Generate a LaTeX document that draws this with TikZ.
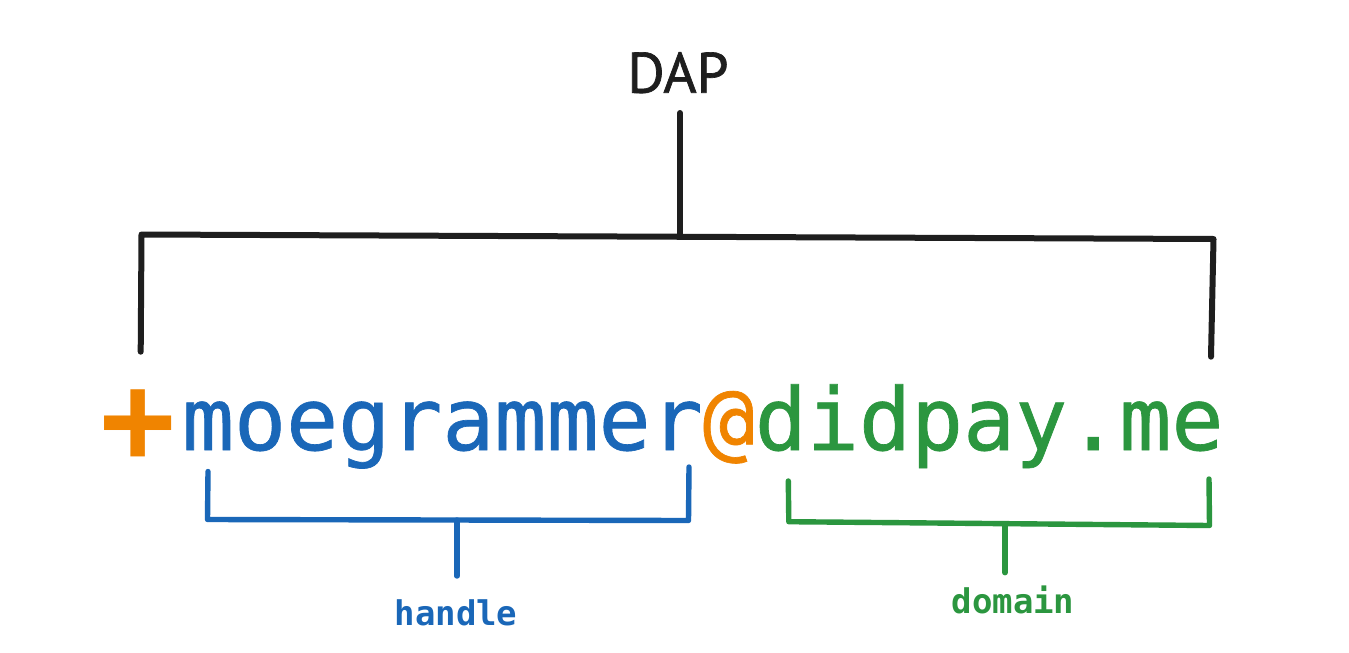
\documentclass[tikz,border=0pt]{standalone}
\usepackage{fontspec}
\setmainfont{PT Sans}
\newfontfamily\titlefont[FakeBold=1.2]{PT Sans}
\newfontfamily\codefont[FakeBold=0.8]{DejaVu Sans Mono}
\newfontfamily\codebold{DejaVu Sans Mono Bold}
\usetikzlibrary{calc}
\definecolor{inkblack}{HTML}{1E1E1E}
\definecolor{inkblue}{HTML}{1A67B8}
\definecolor{inkgreen}{HTML}{2B963F}
\definecolor{inkorange}{HTML}{F08400}
\tikzset{
  bracket/.style={line width=6pt, line cap=round, line join=round},
  cbracket/.style={line width=5.4pt, line cap=round, line join=round},
  label/.style={inner sep=0pt, outer sep=0pt},
}
\begin{document}
\begin{tikzpicture}[x=1pt,y=-1pt]
\useasboundingbox[fill=white] (0,0) rectangle (1349,653);

% title
\node[label, anchor=base, text=inkblack, font=\titlefont\fontsize{57}{60}\selectfont] (dap) at (678,92.7) {DAP};

% main address
\node[label, anchor=base, text=inkorange, font=\codebold\fontsize{125}{130}\selectfont] (plus) at (138,462) {+};
\node[label, anchor=base west, font=\codefont\fontsize{86.5}{90}\selectfont] (addr) at (182,450)
  {\textcolor{inkblue}{moegrammer}\textcolor{inkorange}{@}\textcolor{inkgreen}{didpay.me}};

% labels
\node[label, anchor=base, text=inkblue, font=\codebold\fontsize{34}{36}\selectfont] (handle) at (456,625) {handle};
\node[label, anchor=base, text=inkgreen, font=\codebold\fontsize{34}{36}\selectfont] (domain) at (1013,613) {domain};

% big black bracket
\coordinate (dapstem) at (680,113);
\coordinate (bl) at (140.7,351.7);
\coordinate (tl) at (141.5,234.5);
\coordinate (tm) at (680,236.5);
\coordinate (tr) at (1213.5,239);
\coordinate (br) at (1211,356.7);
\draw[bracket, inkblack] (bl) -- (tl) -- (tr) -- (br);
\draw[bracket, inkblack] (dapstem) -- (tm);

% blue bracket
\coordinate (hl) at (208,471.5);
\coordinate (hbl) at (207.5,519.5);
\coordinate (hbr) at (688.5,520.5);
\coordinate (hr) at (689,467);
\coordinate (hm) at (457,520);
\coordinate (hs) at (457,576);
\draw[cbracket, inkblue] (hl) -- (hbl) -- (hbr) -- (hr);
\draw[cbracket, inkblue] (hm) -- (hs);

% green bracket
\coordinate (dl) at (788.3,481);
\coordinate (dbl) at (788.8,521.7);
\coordinate (dbr) at (1209.5,525.5);
\coordinate (dr) at (1209,479);
\coordinate (dm) at (1005,524);
\coordinate (ds) at (1005,572.7);
\draw[cbracket, inkgreen] (dl) -- (dbl) -- (dbr) -- (dr);
\draw[cbracket, inkgreen] (dm) -- (ds);
\end{tikzpicture}
\end{document}
